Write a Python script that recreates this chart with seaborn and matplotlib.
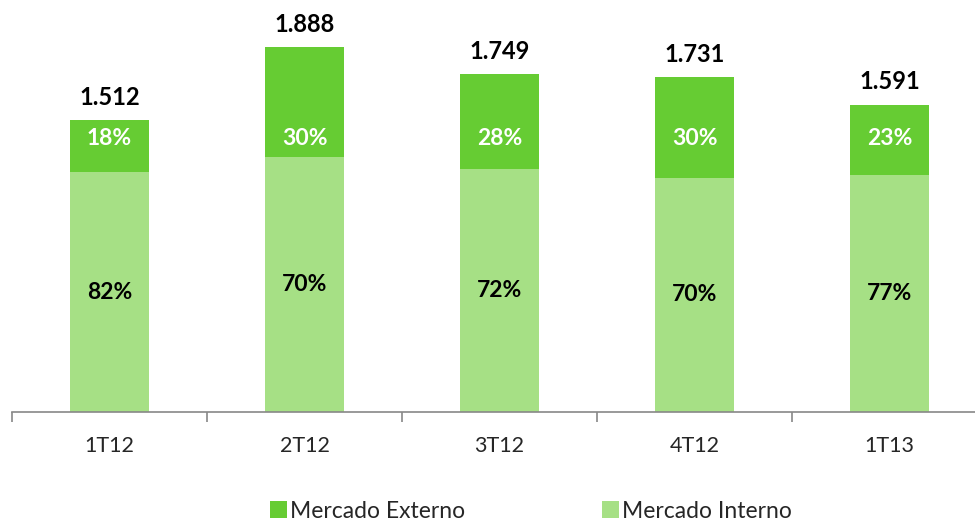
import pandas as pd
import matplotlib.pyplot as plt
import seaborn as sns

# data
quarters = ['1T12', '2T12', '3T12', '4T12', '1T13']
totals = [1512, 1888, 1749, 1731, 1591]
total_labels = ['1.512', '1.888', '1.749', '1.731', '1.591']
pct_externo = [18, 30, 28, 30, 23]
pct_interno = [82, 70, 72, 70, 77]

dark_green = '#66CC33'
light_green = '#A6E085'

df = pd.DataFrame({'quarter': quarters, 'total': totals,
                   'interno': [t * p / 100 for t, p in zip(totals, pct_interno)]})

sns.set_style('white')
plt.rcParams['font.family'] = ['Lato', 'DejaVu Sans']

fig = plt.figure(figsize=(9.75, 5.21), dpi=100)
ax = fig.add_axes([12 / 975, 109 / 521, 975 / 975, 412 / 521])

# full bar = externo on top, interno drawn over it
sns.barplot(data=df, x='quarter', y='total', color=dark_green, width=0.405,
            saturation=1, linewidth=0, edgecolor='none', ax=ax, label='Mercado Externo')
sns.barplot(data=df, x='quarter', y='interno', color=light_green, width=0.405,
            saturation=1, linewidth=0, edgecolor='none', ax=ax, label='Mercado Interno')

for i, (t, lab, pe, pi) in enumerate(zip(totals, total_labels, pct_externo, pct_interno)):
    interno = t * pi / 100
    ax.annotate(lab, (i, t), xytext=(0, 8), textcoords='offset points',
                ha='center', va='bottom', fontsize=17, fontweight='bold', color='black')
    # the externo labels sit at about the same height in every bar
    ax.text(i, 1415, f'{pe}%', ha='center', va='center',
            fontsize=16.5, fontweight='bold', color='white')
    ax.text(i, interno / 2, f'{pi}%', ha='center', va='center',
            fontsize=16.5, fontweight='bold', color='black')

ax.set_xlim(-0.5, 4.5)
ax.set_ylim(0, 2132)
ax.set_xlabel('')
ax.set_ylabel('')
ax.set_yticks([])
sns.despine(ax=ax, left=True, top=True, right=True)
ax.spines['bottom'].set_color('#888888')
ax.spines['bottom'].set_linewidth(1.2)
ax.tick_params(axis='x', which='major', length=0, labelsize=15.5, pad=17)
ax.set_xticks([i - 0.5 for i in range(6)], minor=True)
ax.tick_params(axis='x', which='minor', bottom=True, length=7, width=1.2,
               color='#888888', direction='out')

handles, labels = ax.get_legend_handles_labels()
if ax.get_legend():
    ax.get_legend().remove()
fig.legend(handles, labels, loc='center', bbox_to_anchor=(531 / 975, 10 / 521),
           ncol=2, frameon=False, fontsize=16.5, handlelength=0.75, handleheight=0.75,
           handletextpad=0.15, columnspacing=5.95, borderaxespad=0)

fig.savefig('out.png', dpi=100)
